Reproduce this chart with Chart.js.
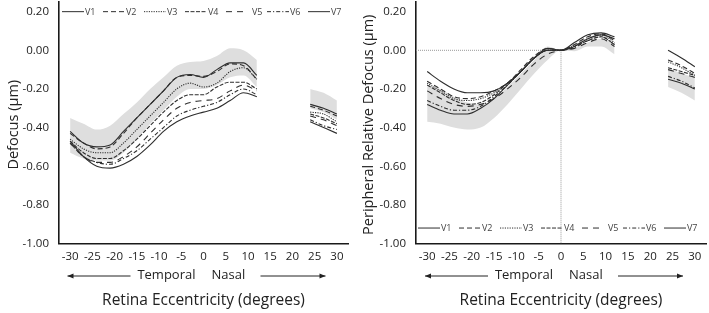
<!DOCTYPE html>
<html><head><meta charset="utf-8">
<script src="https://cdn.jsdelivr.net/npm/chart.js@4.4.1/dist/chart.umd.min.js"></script>
<style>
html,body{margin:0;padding:0;background:#fff;width:709px;height:313px;overflow:hidden}
canvas{position:absolute;top:0}
#a{left:0}
#b{left:355px}
</style></head><body>
<canvas id="a" width="355" height="313"></canvas>
<canvas id="b" width="354" height="313"></canvas>
<script>
// ---- data ----
const ecc = [-30,-27,-24,-21,-18,-15,-12,-9,-6,-3,0,3,6,9,12,18,24,27,30];
const xTicks = [-30,-25,-20,-15,-10,-5,0,5,10,15,20,25,30];
const yTicks = [-1.0,-0.8,-0.6,-0.4,-0.2,0,0.2];
const seriesNames = ['V1','V2','V3','V4','V5','V6','V7'];

// Left panel: Defocus (µm)
const defV1 = [-0.42,-0.48,-0.50,-0.49,-0.42,-0.35,-0.28,-0.21,-0.14,-0.125,-0.14,-0.10,-0.065,-0.065,-0.13,null,-0.28,-0.30,-0.33];
const defV2 = [-0.43,-0.48,-0.51,-0.50,-0.43,-0.35,-0.28,-0.21,-0.14,-0.13,-0.135,-0.11,-0.07,-0.08,-0.15,null,-0.29,-0.31,-0.34];
const defV3 = [-0.46,-0.51,-0.53,-0.53,-0.48,-0.41,-0.34,-0.27,-0.20,-0.17,-0.19,-0.17,-0.11,-0.09,-0.15,null,-0.32,-0.33,-0.37];
const defV4 = [-0.47,-0.53,-0.56,-0.56,-0.52,-0.46,-0.39,-0.32,-0.26,-0.23,-0.23,-0.19,-0.165,-0.165,-0.20,null,-0.33,-0.35,-0.38];
const defV5 = [-0.48,-0.55,-0.58,-0.58,-0.55,-0.50,-0.43,-0.36,-0.30,-0.27,-0.26,-0.25,-0.21,-0.18,-0.21,null,-0.34,-0.36,-0.39];
const defV6 = [-0.48,-0.55,-0.58,-0.59,-0.56,-0.52,-0.46,-0.40,-0.34,-0.31,-0.29,-0.27,-0.23,-0.20,-0.23,null,-0.36,-0.39,-0.41];
const defV7 = [-0.47,-0.55,-0.60,-0.61,-0.59,-0.55,-0.49,-0.42,-0.37,-0.34,-0.32,-0.30,-0.26,-0.22,-0.24,null,-0.37,-0.40,-0.43];
const defBandHigh = [-0.35,-0.38,-0.41,-0.39,-0.33,-0.27,-0.20,-0.14,-0.08,-0.06,-0.055,-0.03,0.01,0.00,-0.05,null,-0.20,-0.22,-0.26];
const defBandLow  = [-0.53,-0.56,-0.57,-0.57,-0.53,-0.46,-0.38,-0.31,-0.24,-0.20,-0.20,-0.18,-0.14,-0.13,-0.19,null,-0.30,-0.32,-0.36];

// Right panel: Peripheral Relative Defocus (µm)
const relV1 = [-0.11,-0.16,-0.20,-0.22,-0.22,-0.21,-0.17,-0.11,-0.04,0.01,0.0,0.04,0.08,0.09,0.07,null,0.00,-0.04,-0.085];
const relV2 = [-0.16,-0.20,-0.24,-0.25,-0.24,-0.21,-0.17,-0.10,-0.03,0.01,0.0,0.03,0.07,0.085,0.05,null,-0.05,-0.08,-0.12];
const relV3 = [-0.17,-0.21,-0.25,-0.26,-0.25,-0.22,-0.17,-0.11,-0.04,0.0,0.0,0.025,0.06,0.08,0.04,null,-0.06,-0.09,-0.13];
const relV4 = [-0.18,-0.22,-0.26,-0.28,-0.27,-0.23,-0.17,-0.11,-0.04,0.0,0.0,0.02,0.05,0.07,0.03,null,-0.09,-0.11,-0.13];
const relV5 = [-0.21,-0.25,-0.28,-0.29,-0.28,-0.25,-0.20,-0.14,-0.07,-0.02,0.0,0.01,0.04,0.06,0.02,null,-0.10,-0.12,-0.14];
const relV6 = [-0.26,-0.29,-0.31,-0.31,-0.29,-0.24,-0.18,-0.11,-0.04,0.0,0.0,0.015,0.05,0.07,0.03,null,-0.135,-0.16,-0.195];
const relV7 = [-0.28,-0.31,-0.33,-0.33,-0.30,-0.25,-0.18,-0.11,-0.04,0.0,0.0,0.02,0.06,0.08,0.06,null,-0.15,-0.17,-0.20];
const relBandHigh = [-0.18,-0.20,-0.24,-0.27,-0.28,-0.25,-0.19,-0.12,-0.05,0.02,0.0,0.01,0.04,0.06,0.03,null,-0.09,-0.12,-0.14];
const relBandLow  = [-0.37,-0.38,-0.40,-0.41,-0.40,-0.35,-0.28,-0.20,-0.12,-0.05,0.0,-0.005,0.02,0.02,-0.02,null,-0.19,-0.22,-0.26];

// reference cross-hair lines (right panel)
const refH = {x:[-32.5,0], y:[0,0]};
const refV = {x:[0,0], y:[0,-1]};

// ---- styles ----
const FONT = '"Open Sans", "Liberation Sans", sans-serif';
const lineColor = '#2e2e2e';
const dashes = [[], [5,3], [1.2,1.2], [4,1.5], [6,5], [4,2,1.2,2], []];
const bandColor = '#dedede';

function pts(arr){ return ecc.map((x,i)=>({x:x, y:arr[i]})); }

function buildDatasets(series, hi, lo){
  const ds = [];
  ds.push({label:'band', data:pts(hi), fill:'+1', backgroundColor:bandColor, borderWidth:0, borderColor:'rgba(0,0,0,0)', pointRadius:0, cubicInterpolationMode:'monotone', order:10});
  ds.push({label:'bandLow', data:pts(lo), fill:false, borderWidth:0, borderColor:'rgba(0,0,0,0)', pointRadius:0, cubicInterpolationMode:'monotone', order:10});
  series.forEach((s,i)=>{
    ds.push({label:seriesNames[i], data:pts(s), borderColor:lineColor, borderWidth:1.1, borderDash:dashes[i], pointRadius:0, fill:false, cubicInterpolationMode:'monotone', order:1});
  });
  return ds;
}

const annot = {
  id:'annot',
  afterDraw(chart, args, o){
    const ctx = chart.ctx, ca = chart.chartArea;
    const ys = chart.scales.y;
    ctx.save();
    // legend
    const ly = ys.getPixelForValue(o.legendY);
    ctx.font = '9px ' + FONT;
    ctx.textBaseline = 'middle';
    ctx.textAlign = 'left';
    seriesNames.forEach((n,i)=>{
      const x0 = ca.left + o.legendX + i*o.legendStep;
      ctx.strokeStyle = lineColor; ctx.lineWidth = 1;
      ctx.setLineDash(dashes[i]);
      ctx.beginPath(); ctx.moveTo(x0, ly); ctx.lineTo(x0+22, ly); ctx.stroke();
      ctx.setLineDash([]);
      ctx.fillStyle = '#444';
      ctx.fillText(n, x0 + (i===4 ? 26 : 23), ly+0.5);
    });
    // y title
    ctx.fillStyle = '#222';
    ctx.font = '14.5px ' + FONT;
    ctx.textAlign = 'center';
    ctx.save();
    ctx.translate(o.yTitleX, (ca.top+ca.bottom)/2 + 2);
    ctx.rotate(-Math.PI/2);
    ctx.fillText(o.yTitle, 0, 0);
    ctx.restore();
    // temporal / nasal
    const cx = (ca.left+ca.right)/2;
    ctx.font = '13px ' + FONT;
    ctx.textAlign = 'right';
    ctx.fillText('Temporal', cx-8, 275);
    ctx.textAlign = 'left';
    ctx.fillText('Nasal', cx+8, 275);
    // arrows
    ctx.strokeStyle = '#222'; ctx.lineWidth = 1;
    function arrow(xa, xb, y){
      ctx.beginPath(); ctx.moveTo(xa,y); ctx.lineTo(xb,y); ctx.stroke();
      const d = xb > xa ? 1 : -1;
      ctx.beginPath(); ctx.moveTo(xb, y); ctx.lineTo(xb-6*d, y-2.5); ctx.lineTo(xb-6*d, y+2.5); ctx.closePath(); ctx.fillStyle='#222'; ctx.fill();
    }
    arrow(cx-73, cx-136, 276);
    arrow(cx+57, cx+122, 276);
    // x title
    ctx.font = '15.5px ' + FONT;
    ctx.textAlign = 'center';
    ctx.fillStyle = '#222';
    ctx.fillText('Retina Eccentricity (degrees)', cx, 301);
    ctx.restore();
  }
};

function makeOptions(yAxisWidth, padRight, annotOpts){
  return {
    responsive:false, animation:false,
    layout:{padding:{top:2, right:padRight, bottom:0, left:0}},
    plugins:{legend:{display:false}, tooltip:{enabled:false}, filler:{drawTime:'beforeDatasetsDraw'}, annot:annotOpts},
    scales:{
      x:{type:'linear', min:-32.5, max:32.5,
        afterBuildTicks: ax => { ax.ticks = xTicks.map(v=>({value:v})); },
        ticks:{font:{family:FONT, size:11.5}, color:'#222', padding:6, autoSkip:false, maxRotation:0, callback:v=>String(v)},
        grid:{display:false, drawTicks:false},
        border:{display:true, color:'#1a1a1a', width:1.6},
        afterFit: s => { s.height = 69.5; }
      },
      y:{min:-1, max:0.25,
        afterBuildTicks: ax => { ax.ticks = yTicks.map(v=>({value:v})); },
        ticks:{font:{family:FONT, size:11.5}, color:'#222', padding:10, callback:v=>Number(v).toFixed(2)},
        grid:{display:false, drawTicks:false},
        border:{display:true, color:'#1a1a1a', width:1.6},
        afterFit: s => { s.width = yAxisWidth; s.paddingTop = 0; s.paddingBottom = 0; }
      }
    }
  };
}

new Chart(document.getElementById('a'), {
  type:'line',
  data:{datasets: buildDatasets([defV1,defV2,defV3,defV4,defV5,defV6,defV7], defBandHigh, defBandLow)},
  options: makeOptions(59, 7, {legendY:0.2, legendX:3, legendStep:41, yTitle:'Defocus (µm)', yTitleX:14}),
  plugins:[annot]
});

const rightDs = buildDatasets([relV1,relV2,relV3,relV4,relV5,relV6,relV7], relBandHigh, relBandLow);
rightDs.push({label:'refH', data:refH.x.map((x,i)=>({x:x,y:refH.y[i]})), borderColor:'#999', borderWidth:1, borderDash:[1,1], pointRadius:0, fill:false, order:5});
rightDs.push({label:'refV', data:refV.x.map((x,i)=>({x:x,y:refV.y[i]})), borderColor:'#999', borderWidth:1, borderDash:[1,1], pointRadius:0, fill:false, order:5});

new Chart(document.getElementById('b'), {
  type:'line',
  data:{datasets: rightDs},
  options: makeOptions(61, 3, {legendY:-0.92, legendX:2, legendStep:41, yTitle:'Peripheral Relative Defocus (µm)', yTitleX:14}),
  plugins:[annot]
});
</script></body></html>
